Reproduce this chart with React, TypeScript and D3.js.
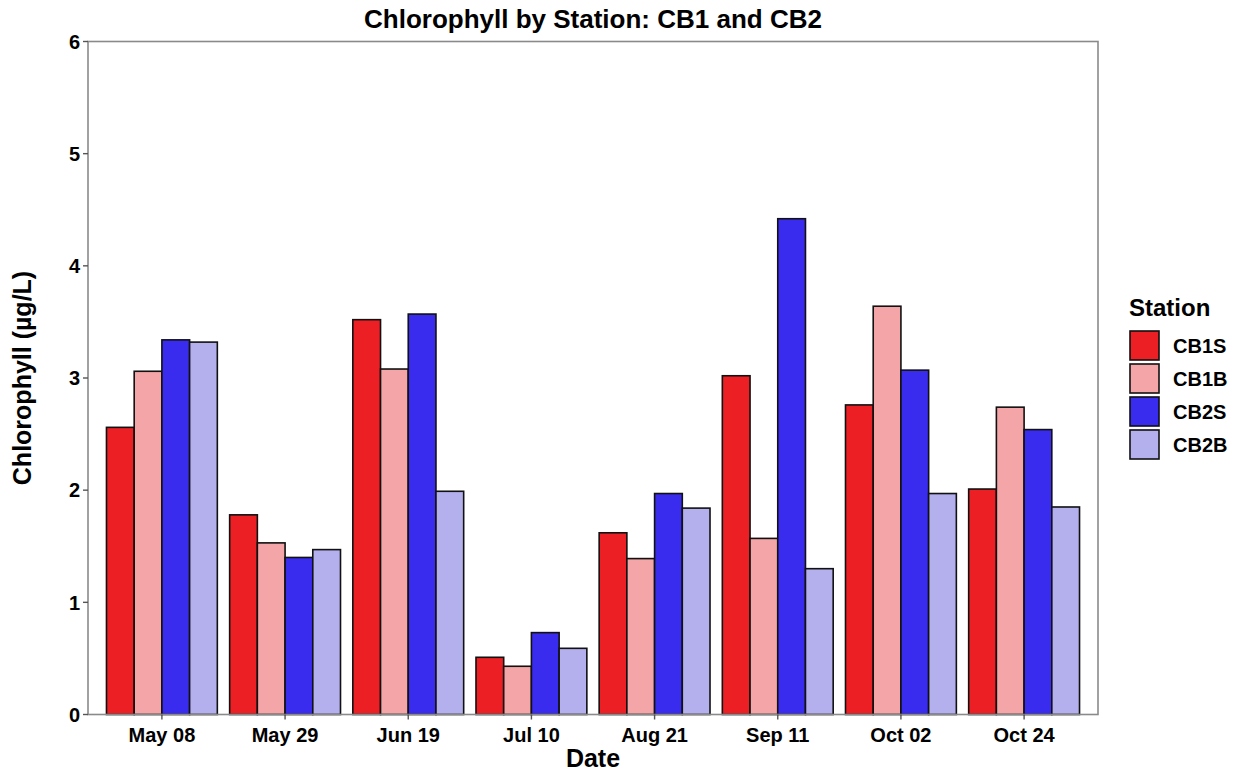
import React from 'react';
import { scaleBand, scaleLinear, scalePoint } from 'd3';

const width = 1241;
const height = 772;
const margin = { top: 41.5, right: 143, bottom: 57.5, left: 88 };
const innerW = width - margin.left - margin.right;
const innerH = height - margin.top - margin.bottom;

const dates = ['May 08', 'May 29', 'Jun 19', 'Jul 10', 'Aug 21', 'Sep 11', 'Oct 02', 'Oct 24'];
const stations = ['CB1S', 'CB1B', 'CB2S', 'CB2B'];
const colors = ['#ec1f25', '#f4a5a7', '#3a2cee', '#b4b0ee'];

const cb1s = [2.56, 1.78, 3.52, 0.51, 1.62, 3.02, 2.76, 2.01];
const cb1b = [3.06, 1.53, 3.08, 0.43, 1.39, 1.57, 3.64, 2.74];
const cb2s = [3.34, 1.4, 3.57, 0.73, 1.97, 4.42, 3.07, 2.54];
const cb2b = [3.32, 1.47, 1.99, 0.59, 1.84, 1.3, 1.97, 1.85];
const series = [cb1s, cb1b, cb2s, cb2b];
const yTicks = [0, 1, 2, 3, 4, 5, 6];

const font = '"Liberation Sans", Arial, sans-serif';

const x = scalePoint<string>().domain(dates).range([0, innerW]).padding(0.6);
const step = x.step();
const inner = scaleBand<string>().domain(stations).range([-0.45 * step, 0.45 * step]);
const y = scaleLinear().domain([0, 6]).range([innerH, 0]);

const App = () => {
  return (
    <svg width={width} height={height} style={{ position: 'absolute', left: 0, top: 0 }} fontFamily={font}>
      <rect width={width} height={height} fill="#fff" />
      <text x={margin.left + innerW / 2} y={28} textAnchor="middle" fontSize={26} fontWeight="bold">
        Chlorophyll by Station: CB1 and CB2
      </text>
      <g transform={`translate(${margin.left},${margin.top})`}>
        {dates.map((d, i) => (
          <g key={d} transform={`translate(${x(d)},0)`}>
            {stations.map((s, j) => (
              <rect
                key={s}
                x={inner(s)}
                y={y(series[j][i])}
                width={inner.bandwidth()}
                height={innerH - y(series[j][i])}
                fill={colors[j]}
                stroke="#111"
                strokeWidth={1.6}
              />
            ))}
          </g>
        ))}
        <rect x={0} y={0} width={innerW} height={innerH} fill="none" stroke="#8a8a8a" strokeWidth={1.6} />
        {yTicks.map((t) => (
          <g key={t} transform={`translate(0,${y(t)})`}>
            <line x1={-5} x2={0} stroke="#555" strokeWidth={1.4} />
            <text x={-8} dy="0.36em" textAnchor="end" fontSize={20} fontWeight="bold">
              {t}
            </text>
          </g>
        ))}
        {dates.map((d) => (
          <g key={d} transform={`translate(${x(d)},${innerH})`}>
            <line y1={0} y2={5} stroke="#555" strokeWidth={1.4} />
            <text y={27} textAnchor="middle" fontSize={20} fontWeight="bold">
              {d}
            </text>
          </g>
        ))}
        <text x={innerW / 2} y={innerH + 52} textAnchor="middle" fontSize={25} fontWeight="bold">
          Date
        </text>
        <text
          transform={`translate(${-57},${innerH / 2}) rotate(-90)`}
          textAnchor="middle"
          fontSize={25}
          fontWeight="bold"
        >
          Chlorophyll (µg/L)
        </text>
      </g>
      <g transform="translate(1129,0)">
        <text x={0} y={316} fontSize={24} fontWeight="bold">
          Station
        </text>
        {stations.map((s, j) => (
          <g key={s} transform={`translate(0,${330 + j * 33})`}>
            <rect x={1} y={1} width={29} height={29} fill={colors[j]} stroke="#111" strokeWidth={1.6} />
            <text x={44} y={15.5} dy="0.36em" fontSize={20} fontWeight="bold">
              {s}
            </text>
          </g>
        ))}
      </g>
    </svg>
  );
};

export default App;
